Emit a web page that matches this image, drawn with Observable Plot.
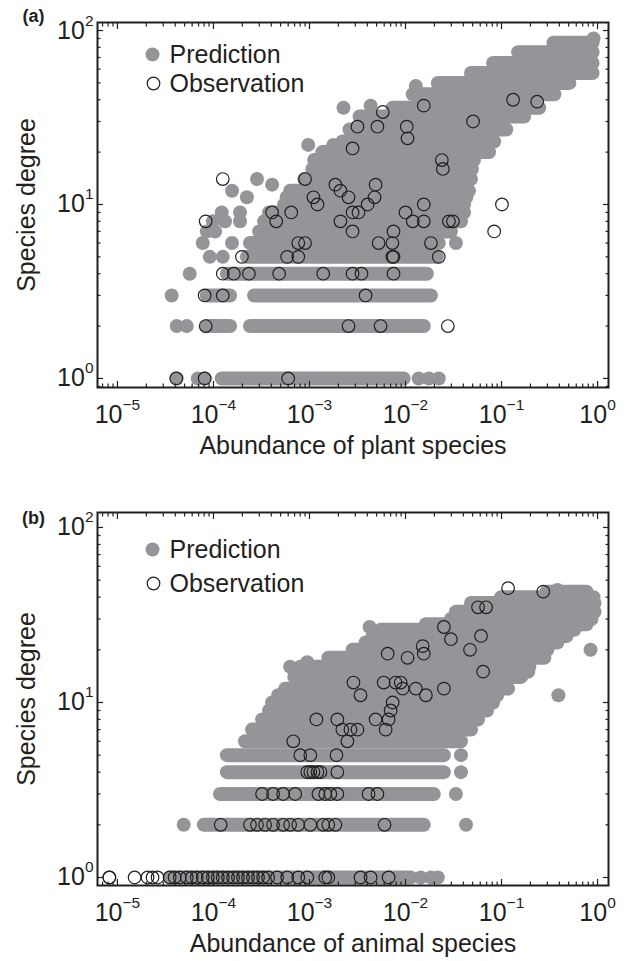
<!DOCTYPE html>
<html><head><meta charset="utf-8">
<script src="https://cdn.jsdelivr.net/npm/d3@7"></script>
<script src="https://cdn.jsdelivr.net/npm/@observablehq/plot@0.6"></script>
<style>
body{margin:0;background:#fff;}
#chart svg{display:block}
</style></head><body><div id="chart"></div>
<script>
const GRAY = "#939598";
const INK = "#231f20";
const FONT = "'Liberation Sans', Arial, Helvetica, sans-serif";

// tick values
const xMajor = [1e-5, 1e-4, 1e-3, 1e-2, 1e-1, 1];
const yMajor = [1, 10, 100];
const minorMultipliers = [2, 3, 4, 5, 6, 7, 8, 9];
const xTitleA = "Abundance of plant species";
const xTitleB = "Abundance of animal species";
const yTitle = "Species degree";
const legendLabels = ["Prediction", "Observation"];

// ---------- panel (a): plants ----------
// predicted rows of overlapping dots: [degree, abundance from, abundance to]
const predRowsA = [
  [1, 1.22e-4, 9.57e-3],
  [2, 8.53e-5, 1.49e-4], [2, 2.40e-4, 1.55e-2],
  [3, 8.53e-5, 1.49e-4], [3, 2.65e-4, 1.84e-2],
  [4, 1.38e-4, 1.67e-2],
  [5, 2.23e-4, 2.12e-2],
  [6, 2.40e-4, 2.22e-2],
  [7, 2.99e-4, 2.97e-2],
  [8, 3.37e-4, 3.78e-2],
  [9, 3.79e-4, 4.07e-2],
  [10, 5.45e-4, 4.07e-2],
  [11, 5.80e-4, 4.30e-2],
  [12, 6.29e-4, 4.58e-2],
  [14, 8.83e-4, 4.81e-2],
  [16, 1.07e-3, 4.92e-2],
  [18, 1.12e-3, 5.16e-2],
  [20, 1.36e-3, 7.41e-2],
  [23, 2.20e-3, 8.38e-2],
  [27, 2.61e-3, 0.112],
  [32, 3.32e-3, 0.172],
  [36, 7.35e-3, 0.247],
  [43, 1.19e-2, 0.355],
  [50, 2.17e-2, 0.509],
  [57, 4.81e-2, 0.887],
  [65, 8.17e-2, 0.887],
  [75, 0.149, 0.887],
  [85, 0.347, 0.887]
];
// isolated predicted species: [abundance, degree]
const predDotsA = [
  [4.14e-5, 1], [6.87e-5, 1], [8.1e-5, 1], [1.37e-2, 1], [1.75e-2, 1], [2.22e-2, 1],
  [4.14e-5, 2], [5.27e-5, 2],
  [3.67e-5, 3],
  [5.66e-5, 4],
  [9.16e-5, 5], [1.25e-4, 5],
  [7.74e-5, 6], [1.56e-4, 6], [3.35e-2, 6],
  [8.53e-5, 7], [1.04e-4, 7],
  [9.86e-5, 8], [1.32e-4, 8], [1.89e-4, 8],
  [1.22e-4, 9], [1.89e-4, 9],
  [2.23e-4, 11], [1.56e-4, 12], [4.08e-4, 13], [2.84e-4, 14],
  [9.70e-4, 22], [1.77e-3, 22],
  [2.26e-3, 36], [4.33e-3, 37], [1.28e-2, 48],
  [0.908, 90]
];
// observed species: [abundance, degree]
const obsA = [
  [4.1e-5, 1], [8.1e-5, 1], [6.0e-4, 1],
  [8.3e-5, 2], [2.55e-3, 2], [5.5e-3, 2], [0.0276, 2],
  [8.1e-5, 3], [1.25e-4, 3], [3.84e-3, 3],
  [1.25e-4, 4], [1.63e-4, 4], [2.34e-4, 4], [4.83e-4, 4], [1.39e-3, 4], [2.81e-3, 4], [3.48e-3, 4], [7.5e-3, 4],
  [1.98e-4, 5], [5.86e-4, 5], [7.64e-4, 5], [7.3e-3, 5], [7.5e-3, 5], [0.0222, 5],
  [7.64e-4, 6], [9.0e-4, 6], [5.25e-3, 6], [7.3e-3, 6], [0.0184, 6],
  [2.81e-3, 7], [7.5e-3, 7], [0.0838, 7],
  [8.3e-5, 8], [4.5e-4, 8], [2.10e-3, 8], [0.0119, 8], [0.0155, 8], [0.0283, 8], [0.0312, 8],
  [4.08e-4, 9], [6.46e-4, 9], [2.81e-3, 9], [3.24e-3, 9], [0.0100, 9],
  [1.21e-3, 10], [4.03e-3, 10], [0.0155, 10], [0.101, 10],
  [1.10e-3, 11], [2.55e-3, 11], [4.76e-3, 11],
  [2.10e-3, 12],
  [1.86e-3, 13], [4.88e-3, 13],
  [1.25e-4, 14], [9.0e-4, 14],
  [0.0245, 16], [0.0239, 18], [2.81e-3, 21], [0.0105, 24],
  [3.16e-3, 28], [5.1e-3, 28], [0.0103, 28],
  [0.0505, 30], [5.8e-3, 34], [0.0155, 37], [0.235, 39], [0.132, 40]
];

// ---------- panel (b): animals ----------
const predRowsB = [
  [1, 3.50e-5, 1.13e-2],
  [2, 7.94e-5, 1.55e-2],
  [3, 1.17e-4, 1.97e-2],
  [4, 1.38e-4, 2.51e-2],
  [5, 1.38e-4, 2.51e-2],
  [6, 2.13e-4, 3.78e-2],
  [7, 2.52e-4, 4.81e-2],
  [8, 3.21e-4, 5.69e-2],
  [9, 3.79e-4, 7.06e-2],
  [10, 4.08e-4, 8.17e-2],
  [11, 4.72e-4, 8.99e-2],
  [12, 5.58e-4, 0.106],
  [14, 6.94e-4, 0.160],
  [16, 8.02e-4, 0.195],
  [18, 1.57e-3, 0.279],
  [20, 2.81e-3, 0.300],
  [22, 3.84e-3, 0.382],
  [24, 4.54e-3, 0.474],
  [26, 5.5e-3, 0.574],
  [28, 1.63e-2, 0.767],
  [30, 2.97e-2, 0.865],
  [33, 3.35e-2, 0.931],
  [37, 4.81e-2, 0.931],
  [40, 9.91e-2, 0.908],
  [43, 0.293, 0.767]
];
const predDotsB = [
  [1.44e-2, 1], [1.84e-2, 1], [2.17e-2, 1],
  [4.90e-5, 2], [4.27e-2, 2],
  [3.35e-2, 3], [3.78e-2, 4], [3.78e-2, 5],
  [0.391, 11], [0.117, 12], [0.190, 15],
  [6.29e-4, 16], [9.48e-4, 17], [0.845, 20],
  [4.23e-3, 27], [5.92e-3, 26], [7.18e-3, 26],
  [3.61e-2, 32], [0.382, 44]
];
const obsB = [
  [8.24e-6, 1], [8.24e-6, 1], [1.51e-5, 1], [2.06e-5, 1], [2.32e-5, 1], [2.62e-5, 1],
  [3.50e-5, 1], [3.94e-5, 1], [4.46e-5, 1], [5.27e-5, 1], [5.94e-5, 1], [6.70e-5, 1],
  [7.74e-5, 1], [8.73e-5, 1], [9.86e-5, 1], [1.11e-4, 1], [1.25e-4, 1], [1.42e-4, 1],
  [1.60e-4, 1], [1.80e-4, 1], [2.03e-4, 1], [2.29e-4, 1], [2.58e-4, 1], [2.91e-4, 1],
  [3.29e-4, 1], [3.71e-4, 1], [4.60e-4, 1], [5.86e-4, 1], [7.64e-4, 1], [9.48e-4, 1],
  [1.46e-3, 1], [1.57e-3, 1], [3.40e-3, 1], [4.33e-3, 1], [6.67e-3, 1],
  [1.19e-4, 2], [2.40e-4, 2], [2.84e-4, 2], [3.45e-4, 2], [4.18e-4, 2], [5.32e-4, 2],
  [6.29e-4, 2], [7.64e-4, 2], [1.02e-3, 2], [1.39e-3, 2], [1.57e-3, 2], [1.86e-3, 2], [6.05e-3, 2],
  [3.21e-4, 3], [4.18e-4, 3], [5.32e-4, 3], [7.10e-4, 3], [1.24e-3, 3], [1.46e-3, 3],
  [1.65e-3, 3], [1.95e-3, 3], [4.12e-3, 3], [5.1e-3, 3],
  [9.48e-4, 4], [1.02e-3, 4], [1.10e-3, 4], [1.21e-3, 4], [1.30e-3, 4], [1.95e-3, 4],
  [8.02e-4, 5], [1.02e-3, 5], [1.91e-3, 5],
  [6.78e-4, 6], [2.48e-3, 6],
  [2.20e-3, 7], [2.67e-3, 7], [3.16e-3, 7], [6.21e-3, 7],
  [1.18e-3, 8], [1.95e-3, 8], [4.88e-3, 8], [6.67e-3, 8],
  [7.00e-3, 9], [7.35e-3, 10],
  [3.40e-3, 11], [1.63e-2, 11],
  [9.35e-3, 12], [1.28e-2, 12], [2.51e-2, 12],
  [2.87e-3, 13], [5.92e-3, 13], [7.88e-3, 13], [8.91e-3, 13],
  [6.43e-2, 15], [1.05e-2, 18], [6.52e-3, 19], [1.55e-2, 19],
  [4.70e-2, 20], [1.51e-2, 21], [2.97e-2, 23], [6.12e-2, 24], [2.51e-2, 27],
  [5.69e-2, 35], [6.90e-2, 35], [0.272, 43], [0.117, 45]
];

const xDomain = [6.2e-6, 1.30];

function minorIn(majors, domain) {
  const out = [];
  for (const m of [majors[0] / 10, ...majors]) for (const k of minorMultipliers) {
    const v = m * k;
    if (v > domain[0] && v < domain[1]) out.push(v);
  }
  return out;
}

function panel(cfg) {
  const rows = cfg.rows.map(([deg, x1, x2]) => ({deg, x1, x2}));
  const dots = cfg.dots.map(([x, deg]) => ({x, deg}));
  const obs = cfg.obs.map(([x, deg]) => ({x, deg}));
  const xMinor = minorIn(xMajor, xDomain);
  const yMinor = minorIn(yMajor, cfg.yDomain);
  const fmt = d => "10^" + Math.round(Math.log10(d));
  const blank = () => "";
  const base = {label: null, stroke: INK, strokeWidth: 1.2};
  const txt = {fill: INK, lineAnchor: "middle"};
  const FS = 25;
  const svg = Plot.plot({
    width: 629, height: cfg.height,
    marginTop: cfg.marginTop, marginBottom: cfg.marginBottom, marginLeft: 97, marginRight: 21,
    x: {type: "log", domain: xDomain},
    y: {type: "log", domain: cfg.yDomain},
    style: {fontFamily: FONT, color: INK, background: "#fff", overflow: "visible"},
    marks: [
      Plot.link(rows, {x1: "x1", x2: "x2", y1: "deg", y2: "deg", stroke: GRAY, strokeWidth: 14, strokeLinecap: "round"}),
      Plot.dot(dots, {x: "x", y: "deg", r: 7, fill: GRAY}),
      Plot.dot(obs, {x: "x", y: "deg", r: 6.3, stroke: INK, strokeWidth: 1.2, fill: "none"}),
      Plot.axisX(xMajor, {anchor: "bottom", tickSize: 0, tickPadding: 18, tickFormat: fmt, fontSize: FS, label: null, fill: INK}),
      Plot.axisY(yMajor, {anchor: "left", tickSize: 0, tickPadding: 4, tickFormat: fmt, fontSize: FS, label: null, fill: INK}),
      Plot.axisX(xMajor, {...base, anchor: "bottom", tickSize: -6, tickFormat: blank}),
      Plot.axisX(xMajor, {...base, anchor: "top", tickSize: -6, tickFormat: blank}),
      Plot.axisX(xMinor, {...base, anchor: "bottom", tickSize: -3.5, tickFormat: blank}),
      Plot.axisX(xMinor, {...base, anchor: "top", tickSize: -3.5, tickFormat: blank}),
      Plot.axisY(yMajor, {...base, anchor: "left", tickSize: -6, tickFormat: blank}),
      Plot.axisY(yMajor, {...base, anchor: "right", tickSize: -6, tickFormat: blank}),
      Plot.axisY(yMinor, {...base, anchor: "left", tickSize: -3.5, tickFormat: blank}),
      Plot.axisY(yMinor, {...base, anchor: "right", tickSize: -3.5, tickFormat: blank}),
      Plot.frame({stroke: INK, strokeWidth: 2}),
      Plot.text([cfg.xTitle], {...txt, text: d => d, frameAnchor: "bottom", textAnchor: "middle", dy: 58, fontSize: FS}),
      Plot.text([yTitle], {...txt, text: d => d, frameAnchor: "left", textAnchor: "middle", dx: -71, rotate: -90, fontSize: FS}),
      Plot.text([cfg.tag], {...txt, text: d => d, frameAnchor: "top-left", textAnchor: "middle", dx: -64, dy: cfg.tagDy, fontSize: 18, fontWeight: "bold"}),
      Plot.dot([legendLabels[0]], {frameAnchor: "top-left", dx: 55, dy: cfg.legendDy[0], r: 7, fill: GRAY}),
      Plot.dot([legendLabels[1]], {frameAnchor: "top-left", dx: 56, dy: cfg.legendDy[1], r: 6.3, stroke: INK, strokeWidth: 1.2, fill: "none"}),
      Plot.text([legendLabels[0]], {...txt, text: d => d, frameAnchor: "top-left", dx: 72, dy: cfg.legendDy[0], textAnchor: "start", fontSize: FS}),
      Plot.text([legendLabels[1]], {...txt, text: d => d, frameAnchor: "top-left", dx: 72, dy: cfg.legendDy[1], textAnchor: "start", fontSize: FS})
    ]
  });
  // superscript exponents on the tick labels
  d3.select(svg).selectAll('g[aria-label="x-axis tick label"] text, g[aria-label="y-axis tick label"] text').each(function () {
    const t = this.textContent;
    if (!t.includes("^")) return;
    const [b, e] = t.split("^");
    const s = d3.select(this);
    s.text(null);
    s.append("tspan").text(b);
    s.append("tspan").attr("dy", -13).attr("font-size", "62%").text(e.replace("-", "\u2212"));
  });
  return svg;
}

const chart = document.getElementById("chart");
chart.appendChild(panel({
  rows: predRowsA, dots: predDotsA, obs: obsA, tag: "(a)", xTitle: xTitleA,
  yDomain: [0.887, 111.2], height: 470, marginTop: 22, marginBottom: 83,
  tagDy: -6, legendDy: [32, 61]
}));
chart.appendChild(panel({
  rows: predRowsB, dots: predDotsB, obs: obsB, tag: "(b)", xTitle: xTitleB,
  yDomain: [0.90, 121.8], height: 491, marginTop: 42, marginBottom: 76,
  tagDy: 6, legendDy: [37, 71]
}));
</script></body></html>
